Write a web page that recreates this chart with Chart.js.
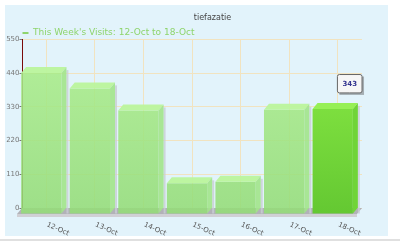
<!DOCTYPE html>
<html>
<head>
<meta charset="utf-8">
<script src="https://cdn.jsdelivr.net/npm/chart.js@4.4.0/dist/chart.umd.min.js"></script>
<style>
html,body{margin:0;padding:0;background:#fff;}
canvas{display:block;}
</style>
</head>
<body>
<canvas id="grafica" width="400" height="243"></canvas>
<script>
var dias = ['12-Oct', '13-Oct', '14-Oct', '15-Oct', '16-Oct', '17-Oct', '18-Oct'];
var visitas = [460, 410, 338, 100, 105, 340, 343];
var marcasY = [0, 110, 220, 330, 440, 550];
var titulo = 'tiefazatie';
var leyenda = "This Week's Visits: 12-Oct to 18-Oct";
var resaltado = 6; // barra con el tooltip

var dx = 5, dy = 6; // profundidad 3d

Chart.defaults.font.family = '"DejaVu Sans", Verdana, sans-serif';

function colorFrente(ctx) {
    var chart = ctx.chart;
    var a = chart.chartArea;
    if (!a) return '#9ee283';
    var g = chart.ctx.createLinearGradient(0, a.top, 0, a.bottom);
    if (ctx.dataIndex == resaltado) {
        g.addColorStop(0, 'rgb(140,236,70)');
        g.addColorStop(1, 'rgb(100,200,50)');
    } else {
        g.addColorStop(0, 'rgba(172,238,140,0.88)');
        g.addColorStop(1, 'rgba(148,220,120,0.88)');
    }
    return g;
}

var fondo3d = {
    id: 'fondo3d',
    beforeDraw: function (chart) {
        var c = chart.ctx;
        c.save();
        c.fillStyle = '#fff';
        c.fillRect(0, 0, chart.width, chart.height);
        c.fillStyle = '#e2f3fb';
        c.fillRect(5, 5, 383, 231);
        c.fillStyle = '#e0e0e0';
        c.fillRect(0, 239, 400, 2);
        c.restore();
    },
    beforeDatasetsDraw: function (chart) {
        var a = chart.chartArea, c = chart.ctx;
        c.save();
        c.fillStyle = '#b2b2b8';
        c.beginPath();
        c.moveTo(a.left, a.bottom);
        c.lineTo(a.right, a.bottom);
        c.lineTo(a.right - dx, a.bottom + dy);
        c.lineTo(a.left - dx, a.bottom + dy);
        c.closePath();
        c.fill();
        c.fillStyle = '#d0d0d5';
        c.fillRect(a.left - dx, a.bottom + dy, a.right - a.left, 3);
        c.restore();
    },
    beforeDatasetDraw: function (chart) {
        chart.ctx.save();
        chart.ctx.translate(-dx, dy);
    },
    afterDatasetDraw: function (chart, args) {
        var c = chart.ctx;
        args.meta.data.forEach(function (bar, i) {
            var p = bar.getProps(['x', 'y', 'base', 'width'], true);
            var l = p.x - p.width / 2, r = p.x + p.width / 2;
            // sombra
            c.fillStyle = 'rgba(200,205,212,0.8)';
            c.fillRect(r + dx, p.y - dy + 3, 2, p.base - p.y + 3);
            // tapa
            c.fillStyle = i == resaltado ? 'rgb(150,240,85)' : 'rgba(186,244,156,0.95)';
            c.beginPath();
            c.moveTo(l, p.y);
            c.lineTo(r, p.y);
            c.lineTo(r + dx, p.y - dy);
            c.lineTo(l + dx, p.y - dy);
            c.closePath();
            c.fill();
            // lado
            c.fillStyle = i == resaltado ? 'rgb(112,212,56)' : 'rgba(162,228,138,0.9)';
            c.beginPath();
            c.moveTo(r, p.y);
            c.lineTo(r + dx, p.y - dy);
            c.lineTo(r + dx, p.base - dy);
            c.lineTo(r, p.base);
            c.closePath();
            c.fill();
        });
        c.restore();
    },
    beforeTooltipDraw: function (chart, args) {
        var t = args.tooltip, c = chart.ctx;
        c.save();
        c.fillStyle = 'rgba(90,90,90,0.45)';
        c.fillRect(t.x + 2, t.y + 2, t.width, t.height);
        c.restore();
    },
    afterDraw: function (chart) {
        var c = chart.ctx, xs = chart.scales.x;
        c.save();
        c.font = '7px "DejaVu Sans"';
        c.fillStyle = '#555';
        c.textAlign = 'left';
        c.textBaseline = 'alphabetic';
        dias.forEach(function (d, i) {
            var x = xs.getPixelForValue(i);
            c.save();
            c.translate(x, 226);
            c.rotate(24 * Math.PI / 180);
            c.fillText(d, 0, 0);
            c.restore();
        });
        c.restore();
    }
};

Chart.Tooltip.positioners.arriba = function (items) {
    if (!items.length) return false;
    var el = items[0].element;
    return { x: el.x + 12, y: el.y - 10 };
};

var ctx = document.getElementById('grafica').getContext('2d');
var myChart = new Chart(ctx, {
    type: 'bar',
    data: {
        labels: dias,
        datasets: [{
            label: leyenda,
            data: visitas,
            backgroundColor: colorFrente,
            borderWidth: 0,
            barPercentage: 0.83,
            categoryPercentage: 1
        }]
    },
    options: {
        responsive: false,
        animation: false,
        events: [],
        layout: { padding: { left: 5, right: -20, top: 0, bottom: 0 } },
        scales: {
            x: {
                grid: { color: '#f1e3c0', offset: false, drawTicks: false },
                border: { display: false },
                ticks: { display: false },
                afterFit: function (s) { s.height = 35; }
            },
            y: {
                min: marcasY[0],
                max: marcasY[marcasY.length - 1],
                ticks: { stepSize: 110, color: '#777', font: { size: 7 }, padding: 0 },
                grid: { color: '#f1e3c0', tickLength: 2.5, tickColor: '#777' },
                border: { color: '#7a0a0a', width: 1 },
                afterFit: function (s) { s.width = 17; }
            },
            yR: {
                position: 'right',
                grid: { display: false },
                border: { display: false },
                ticks: { display: false },
                afterFit: function (s) { s.width = 58; }
            }
        },
        plugins: {
            title: {
                display: true,
                text: titulo,
                color: '#444',
                font: { size: 8, weight: 'normal' },
                padding: { top: 13, bottom: 5.4 }
            },
            legend: {
                display: true,
                fullSize: false,
                align: 'start',
                maxHeight: 11.5,
                labels: {
                    padding: 0.5,
                    usePointStyle: true,
                    pointStyleWidth: 6,
                    color: '#8ed46c',
                    font: { size: 9 },
                    generateLabels: function () {
                        return [{
                            text: leyenda,
                            fillStyle: '#8ed46c',
                            strokeStyle: '#8ed46c',
                            fontColor: '#8ed46c',
                            lineWidth: 2,
                            pointStyle: 'line',
                            hidden: false,
                            datasetIndex: 0
                        }];
                    }
                }
            },
            tooltip: {
                position: 'arriba',
                xAlign: 'center',
                yAlign: 'bottom',
                caretSize: 0,
                caretPadding: 0,
                displayColors: false,
                backgroundColor: '#f6f6f6',
                borderColor: '#666',
                borderWidth: 1,
                cornerRadius: 2,
                padding: { x: 5, y: 5 },
                bodyColor: '#33338f',
                bodyFont: { size: 7, weight: 'bold' },
                callbacks: {
                    title: function () { return ''; },
                    label: function (item) { return '' + item.raw; }
                }
            }
        }
    },
    plugins: [fondo3d]
});

myChart.tooltip.setActiveElements([{ datasetIndex: 0, index: resaltado }], { x: 0, y: 0 });
myChart.update();
</script>
</body>
</html>
